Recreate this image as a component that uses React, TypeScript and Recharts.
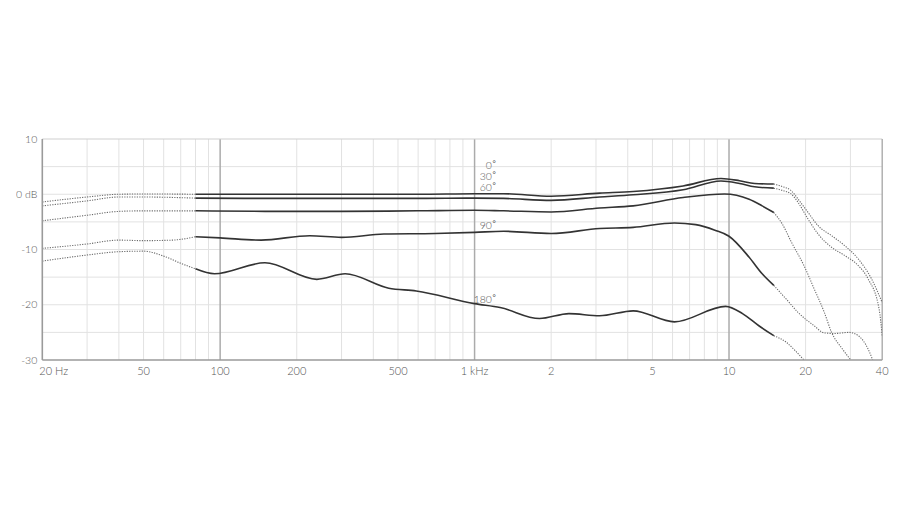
import React from 'react';
import { LineChart, Line, XAxis, YAxis, ReferenceLine, ReferenceDot } from 'recharts';

// ---- data (Hz, dB) ----
const FREQ_0 = [20, 30, 40, 50, 80, 150, 300, 600, 1000, 1300, 2000, 3100, 4200, 6600, 9300, 11000, 12600, 15000, 16200, 17600, 18700, 20450, 22400, 25300, 28500, 32200, 36300, 40000];
const DB_0 = [-1.4, -0.5, 0, 0.05, 0, 0, 0, 0, 0.1, 0.1, -0.35, 0.2, 0.5, 1.5, 2.85, 2.45, 1.95, 1.85, 1.4, 0.6, -0.9, -3.3, -5.7, -7.5, -9.3, -11.7, -15.3, -19.6];

const FREQ_30 = [20, 30, 40, 50, 80, 150, 300, 600, 1000, 1300, 2000, 3100, 4200, 6600, 9300, 11000, 12600, 15000, 16200, 17600, 18700, 20450, 22400, 25300, 28500, 32200, 35200, 38900, 40000];
const DB_30 = [-2.1, -1.2, -0.5, -0.5, -0.7, -0.75, -0.75, -0.75, -0.7, -0.75, -1.1, -0.5, -0.1, 0.8, 2.4, 1.95, 1.35, 1.1, 0.7, 0, -1.5, -4.5, -7.2, -9.6, -11.1, -12.9, -15.3, -20.8, -25.6];

const FREQ_60 = [20, 30, 40, 50, 80, 150, 300, 600, 1000, 1300, 2000, 3100, 4200, 6600, 9600, 12000, 13500, 15000, 16200, 17600, 19700, 21600, 23700, 25300, 27900, 30100];
const DB_60 = [-4.8, -3.8, -3.1, -3.0, -3.0, -3.1, -3.1, -3.0, -2.9, -3.0, -3.2, -2.5, -2.1, -0.6, 0.05, -0.9, -2.1, -3.3, -5.4, -8.7, -12.9, -17.1, -21.4, -25, -28, -30];

const FREQ_90 = [20, 30, 40, 50, 65, 80, 100, 145, 225, 300, 440, 700, 1000, 1300, 2000, 3100, 4200, 6100, 7400, 8800, 10000, 12000, 13500, 15000, 16800, 18700, 21600, 23700, 26100, 29600, 32200, 35200, 36700];
const DB_90 = [-9.8, -9.0, -8.3, -8.4, -8.3, -7.7, -7.9, -8.3, -7.5, -7.8, -7.2, -7.1, -6.9, -6.7, -7.1, -6.2, -6.0, -5.2, -5.5, -6.5, -7.6, -11.4, -14.4, -16.5, -19, -21.4, -23.8, -25.1, -25.2, -25, -25.6, -28, -30];

const FREQ_180 = [20, 30, 40, 50, 60, 70, 80, 95, 150, 240, 310, 460, 590, 1000, 1260, 1800, 2350, 3100, 4200, 6100, 9700, 11300, 13100, 15000, 16800, 18200, 19700];
const DB_180 = [-12.1, -11.0, -10.4, -10.3, -11.2, -12.5, -13.5, -14.4, -12.4, -15.4, -14.4, -17.0, -17.5, -19.8, -20.5, -22.5, -21.6, -22.0, -21.1, -23.1, -20.3, -21.6, -23.8, -25.6, -26.8, -28.3, -30];

const SERIES_NAMES = ['0', '30', '60', '90', '180'];
const LABEL_DB = [4.6, 2.6, 0.6, -6.2, -19.6];
const LABEL_FREQ = 1170;

const X_TICKS = [20, 50, 100, 200, 500, 1000, 2000, 5000, 10000, 20000, 40000];
const X_TICK_LABELS = ['20 Hz', '50', '100', '200', '500', '1 kHz', '2', '5', '10', '20', '40'];
const Y_TICKS = [-30, -20, -10, 0, 10];
const Y_TICK_LABELS = ['-30', '-20', '-10', '0 dB', '10'];
const H_GRID = [-25, -20, -15, -10, -5, 0, 5];
const V_GRID_MINOR = [30, 40, 50, 60, 70, 80, 90, 200, 300, 400, 500, 600, 700, 800, 900, 2000, 3000, 4000, 5000, 6000, 7000, 8000, 9000, 20000, 30000];
const V_GRID_MAJOR = [100, 1000, 10000];

const LOW_END = 80;
const HIGH_START = 15000;

const ALL = [
  [FREQ_0, DB_0],
  [FREQ_30, DB_30],
  [FREQ_60, DB_60],
  [FREQ_90, DB_90],
  [FREQ_180, DB_180],
];

function split(freqs: number[], dbs: number[]) {
  const pts = freqs.map((f, i) => ({ f, db: dbs[i] }));
  return {
    low: pts.filter((p) => p.f <= LOW_END),
    mid: pts.filter((p) => p.f >= LOW_END && p.f <= HIGH_START),
    high: pts.filter((p) => p.f >= HIGH_START),
  };
}

const FONT = 'Lato, "Open Sans", sans-serif';
const TEXT_COLOR = '#555555';

const XTick = (props: any) => {
  const { x, y, payload } = props;
  const idx = X_TICKS.indexOf(payload.value);
  const label = idx >= 0 ? X_TICK_LABELS[idx] : '';
  const first = idx === 0;
  return (
    <text
      x={first ? x - 3 : x}
      y={y + 15}
      textAnchor={first ? 'start' : 'middle'}
      fontFamily={FONT}
      fontWeight={300}
      fontSize={11}
      fill={TEXT_COLOR}
    >
      {label}
    </text>
  );
};

const YTick = (props: any) => {
  const { x, y, payload } = props;
  const idx = Y_TICKS.indexOf(payload.value);
  const label = idx >= 0 ? Y_TICK_LABELS[idx] : '';
  return (
    <text
      x={x - 5}
      y={y}
      dy="0.35em"
      textAnchor="end"
      fontFamily={FONT}
      fontWeight={300}
      fontSize={10.5}
      fill={TEXT_COLOR}
    >
      {label}
    </text>
  );
};

const makeLabel = (name: string) => (p: any) => (
  <g>
    <text x={p.cx} y={p.cy} textAnchor="end" fontFamily={FONT} fontWeight={300} fontSize={10.5} fill={TEXT_COLOR}>
      {name}
    </text>
    <text x={p.cx + 0.5} y={p.cy - 3} textAnchor="start" fontFamily={FONT} fontSize={8} fill={TEXT_COLOR}>
      °
    </text>
  </g>
);

export default function App() {
  const segs = ALL.map(([f, d]) => split(f as number[], d as number[]));
  return (
    <div style={{ width: 898, height: 503, opacity: 0.999 }}>
      <LineChart
        width={898}
        height={503}
        margin={{ top: 131, right: 23.8, bottom: 121, left: 0 }}
      >
        <XAxis
          dataKey="f"
          type="number"
          scale="log"
          domain={[20, 40000]}
          ticks={X_TICKS}
          allowDataOverflow
          height={30}
          tickSize={0}
          tickMargin={0}
          tick={<XTick />}
          axisLine={{ stroke: '#9a9a9a', strokeWidth: 1.6 }}
          tickLine={false}
          interval={0}
        />
        <YAxis
          dataKey="db"
          type="number"
          domain={[-30, 10]}
          ticks={Y_TICKS}
          allowDataOverflow
          width={34.3}
          tickSize={0}
          tickMargin={0}
          tick={<YTick />}
          axisLine={{ stroke: '#9a9a9a', strokeWidth: 1.6 }}
          tickLine={false}
          interval={0}
        />
        {H_GRID.map((v) => (
          <ReferenceLine key={'h' + v} y={v} stroke="#e2e2e2" strokeWidth={1} />
        ))}
        {V_GRID_MINOR.map((v) => (
          <ReferenceLine key={'v' + v} x={v} stroke="#e2e2e2" strokeWidth={1} />
        ))}
        {V_GRID_MAJOR.map((v) => (
          <ReferenceLine key={'m' + v} x={v} stroke="#ababab" strokeWidth={1.5} />
        ))}
        <ReferenceLine y={10} stroke="#cfcfcf" strokeWidth={1.2} />
        <ReferenceLine x={40000} stroke="#ababab" strokeWidth={1.4} />
        {segs.map((s, i) => (
          <Line
            key={'lo' + i}
            data={s.low}
            dataKey="db"
            type="monotone"
            stroke="#6a6a6a"
            strokeWidth={1.1}
            strokeDasharray="1.2 1.3"
            dot={false}
            activeDot={false}
            isAnimationActive={false}
          />
        ))}
        {segs.map((s, i) => (
          <Line
            key={'hi' + i}
            data={s.high}
            dataKey="db"
            type="monotone"
            stroke="#6a6a6a"
            strokeWidth={1.1}
            strokeDasharray="1.2 1.3"
            dot={false}
            activeDot={false}
            isAnimationActive={false}
          />
        ))}
        {segs.map((s, i) => (
          <Line
            key={'mid' + i}
            data={s.mid}
            dataKey="db"
            type="monotone"
            stroke="#333333"
            strokeWidth={1.6}
            dot={false}
            activeDot={false}
            isAnimationActive={false}
          />
        ))}
        {SERIES_NAMES.map((n, i) => (
          <ReferenceDot
            key={'lab' + n}
            x={LABEL_FREQ}
            y={LABEL_DB[i]}
            r={0}
            shape={makeLabel(n)}
          />
        ))}
      </LineChart>
    </div>
  );
}
